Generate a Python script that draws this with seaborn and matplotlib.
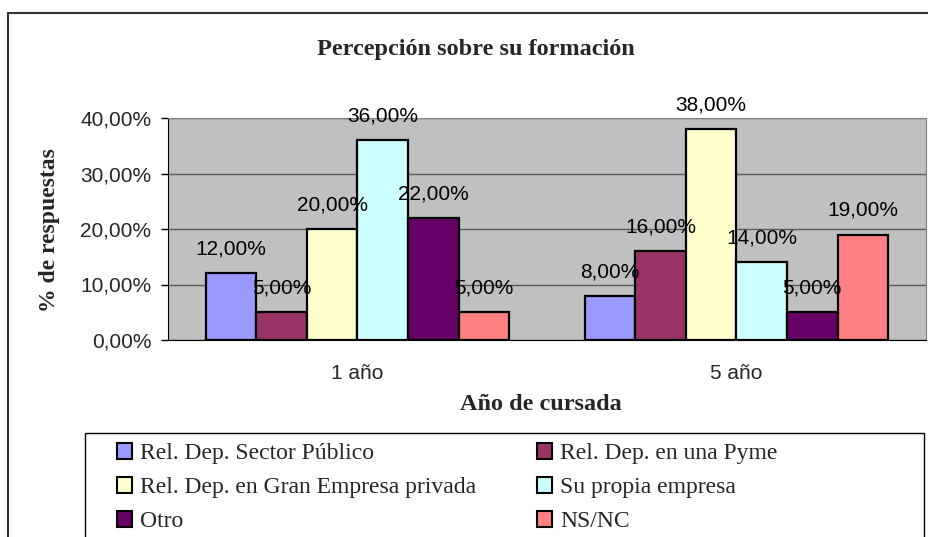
import matplotlib
matplotlib.use("Agg")
import matplotlib.pyplot as plt
from matplotlib.patches import Rectangle
from matplotlib.lines import Line2D
import pandas as pd
import seaborn as sns

# values
years = ["1 año", "5 año"]
categories = [
    "Rel. Dep. Sector Público",
    "Rel. Dep. en una Pyme",
    "Rel. Dep. en Gran Empresa privada",
    "Su propia empresa",
    "Otro",
    "NS/NC",
]
values_1 = [0.12, 0.05, 0.20, 0.36, 0.22, 0.05]
values_5 = [0.08, 0.16, 0.38, 0.14, 0.05, 0.19]
colors = ["#9999FF", "#993366", "#FFFFCC", "#CCFFFF", "#660066", "#FF8080"]
yticks = [0.0, 0.1, 0.2, 0.3, 0.4]

rows = []
for year, vals in zip(years, [values_1, values_5]):
    for cat, v in zip(categories, vals):
        rows.append({"anio": year, "categoria": cat, "valor": v})
df = pd.DataFrame(rows)


def pct(v):
    return f"{v * 100:.2f}%".replace(".", ",")


sns.set_style("white")
plt.rcParams["font.family"] = ["Liberation Sans", "DejaVu Sans"]
SERIF = ["Liberation Serif", "DejaVu Serif"]
FS = 15

W, H = 929, 537
fig = plt.figure(figsize=(W / 100, H / 100), dpi=100)
ax = fig.add_axes([168 / W, 1 - 340 / H, (926 - 168) / W, (340 - 118) / H])
ax.set_facecolor("#C0C0C0")

sns.barplot(
    data=df, x="anio", y="valor", hue="categoria", hue_order=categories,
    palette=colors, edgecolor="black", linewidth=1.6, width=0.8,
    saturation=1, ax=ax, zorder=3,
)
handles, labels = ax.get_legend_handles_labels()
ax.get_legend().remove()

for cont in ax.containers:
    ax.bar_label(cont, labels=[pct(b.get_height()) for b in cont],
                 padding=10.5, fontsize=FS, color="black", zorder=5)

ax.set_ylim(0, 0.4)
ax.set_xlim(-0.5, 1.5)
ax.set_yticks(yticks)
ax.set_yticklabels([pct(t) for t in yticks], fontsize=FS)
ax.set_xticks([0, 1])
ax.set_xticklabels(years, fontsize=FS)
ax.set_xticks([-0.5, 0.5, 1.5], minor=True)
ax.tick_params(axis="x", which="major", length=0, pad=17)
ax.tick_params(axis="x", which="minor", length=6, width=1, color="black", direction="out")
ax.tick_params(axis="y", length=5, width=1, color="black", direction="out", pad=7, left=True)
ax.grid(axis="y", color="#5a5a5a", linewidth=1, zorder=1)
ax.set_axisbelow(True)
ax.set_xlabel("")
ax.set_ylabel("")
for side in ["top", "right"]:
    ax.spines[side].set_color("#808080")
for side in ["left", "bottom"]:
    ax.spines[side].set_color("black")

fig.text(476 / W, 1 - 49 / H, "Percepción sobre su formación", family=SERIF,
         fontweight="bold", fontsize=17.5, ha="center", va="center")
fig.text(50 / W, 1 - 230 / H, "% de respuestas", family=SERIF,
         fontweight="bold", fontsize=17, ha="center", va="center", rotation=90)
fig.text(541 / W, 1 - 404 / H, "Año de cursada", family=SERIF,
         fontweight="bold", fontsize=17.5, ha="center", va="center")

# outer chart frame (right and bottom edges fall outside the picture)
fig.add_artist(Line2D([8 / W, 8 / W], [0, 1 - 13 / H], color="#333333", lw=1.5))
fig.add_artist(Line2D([8 / W, 1], [1 - 13 / H, 1 - 13 / H], color="#333333", lw=1.5))

# legend box, cut at the bottom
fig.add_artist(Rectangle((85 / W, -0.05), (924 - 85) / W, 0.05 + 1 - 433 / H,
                         transform=fig.transFigure, facecolor="white",
                         edgecolor="black", lw=1))
leg_handles = [Rectangle((0, 0), 1, 1, facecolor=h.get_facecolor(),
                         edgecolor="black", lw=1.5) for h in handles]
# two columns filled row by row, like the reference
for col, x0 in [(0, 117), (1, 537)]:
    idx = [col, col + 2, col + 4]
    leg = fig.legend([leg_handles[i] for i in idx], [labels[i] for i in idx],
                     loc="upper left", bbox_to_anchor=(x0 / W, 1 - 443 / H),
                     frameon=False, prop={"family": SERIF, "size": 17},
                     handlelength=0.64, handleheight=0.64, handletextpad=0.34,
                     labelspacing=0.55, borderpad=0, borderaxespad=0)

fig.savefig("out.png", dpi=100)
